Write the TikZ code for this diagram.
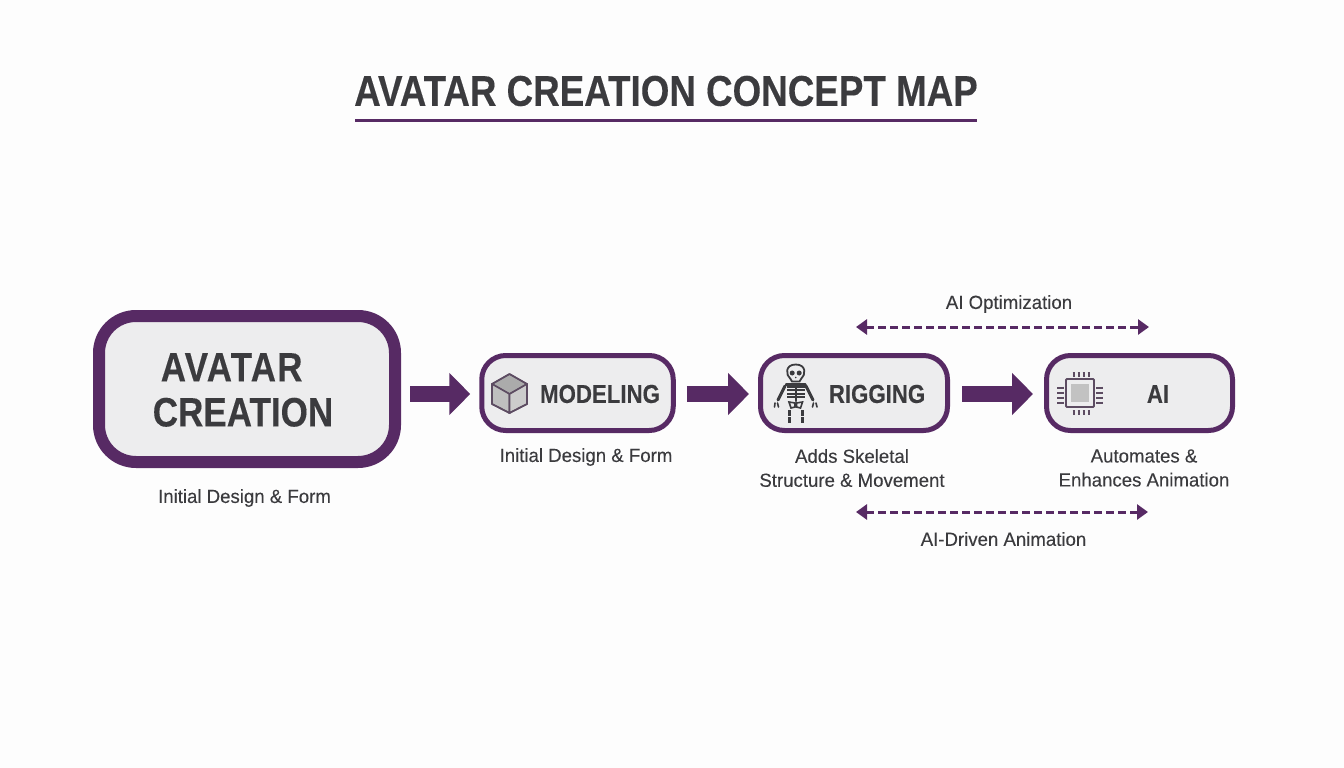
\documentclass[tikz,border=0pt]{standalone}
\usepackage{fontspec}
\usepackage{xcolor}
\usetikzlibrary{arrows.meta}
\setmainfont[FakeStretch=0.98, FakeBold=0.15, BoldFeatures={FakeStretch=0.855, FakeBold=0.25}]{Liberation Sans}
\definecolor{plum}{HTML}{572A64}
\definecolor{inkgray}{HTML}{3B3B3E}
\definecolor{boxgray}{HTML}{EDEDEE}
\definecolor{papergray}{HTML}{FDFDFD}
\definecolor{iconline}{HTML}{5D4C62}
\newcommand*{\fsize}[1]{\fontsize{#1}{#1}\selectfont}
\tikzset{
  bigbox/.style={draw=plum, fill=boxgray, line width=12pt, rounded corners=37pt,
    minimum width=296pt, minimum height=146pt},
  stepbox/.style={draw=plum, fill=boxgray, line width=5pt, rounded corners=24pt,
    minimum height=75pt},
  boxtext/.style={text=inkgray, font=\bfseries\fsize{26}},
  caption/.style={text=inkgray, font=\fsize{19}, align=center},
  blockarrow/.style={draw=plum, line width=16pt, -{Triangle[length=21pt,width=41pt]}},
  dasharrow/.style={draw=plum, line width=3pt, dash pattern=on 7.5pt off 4.5pt,
    {Triangle[length=11pt,width=15pt]}-{Triangle[length=11pt,width=15pt]}},
  iconface/.style={draw=iconline, line width=1.6pt, line join=round},
  bone/.style={draw=inkgray, line width=2.4pt, line cap=round},
  pinrow/.style={draw=iconline, dash pattern=on 2pt off 3pt}
}
\begin{document}
\begin{tikzpicture}[x=1pt, y=-1pt]
    \useasboundingbox (0, 0) rectangle (1344, 768);
    \fill[papergray] (0, 0) rectangle (1344, 768);

    % title
    \node[text=inkgray, font=\bfseries\fsize{43}, inner sep=0pt] (title) at (666, 91) {AVATAR CREATION CONCEPT MAP};
    \coordinate (ruleleft) at (355, 120.5);
    \coordinate (ruleright) at (977, 120.5);
    \draw[plum, line width=2.5pt] (ruleleft) -- (ruleright);

    % boxes
    \node[bigbox] (avatar) at (247, 389) {};
    \node[stepbox, minimum width=191.5pt] (modeling) at (577.5, 393) {};
    \node[stepbox, minimum width=187pt] (rigging) at (854, 393) {};
    \node[stepbox, minimum width=186pt] (ai) at (1139.5, 393) {};

    \node[text=inkgray, font=\bfseries\fsize{41}, align=left, inner sep=0pt] (avatartext) at (243, 390)
      {\hspace*{8pt}{\addfontfeature{LetterSpace=3}AVATAR}\\[4pt]CREATION};
    \node[boxtext] (modelingtext) at (600, 394) {MODELING};
    \node[boxtext] (riggingtext) at (877, 394) {RIGGING};
    \node[boxtext] (aitext) at (1158, 394) {AI};

    % block arrows
    \draw[blockarrow, shorten <=9pt, shorten >=9pt] ([yshift=-1pt]avatar.east |- modeling.west) -- ([yshift=-1pt]modeling.west);
    \draw[blockarrow, shorten <=11pt, shorten >=9pt] ([yshift=-1pt]modeling.east) -- ([yshift=-1pt]rigging.west);
    \draw[blockarrow, shorten <=12pt, shorten >=11pt] ([yshift=-1pt]rigging.east) -- ([yshift=-1pt]ai.west);

    % cube
    \fill[iconface, fill=black!33] (509.5, 374) -- (527, 384) -- (509.5, 394) -- (492, 384) -- cycle;
    \fill[iconface, fill=black!25] (492, 384) -- (509.5, 394) -- (509.5, 413) -- (492, 404) -- cycle;
    \fill[iconface, fill=black!20] (527, 384) -- (509.5, 394) -- (509.5, 413) -- (527, 404) -- cycle;
    \draw[iconface] (509.5, 374) -- (527, 384) -- (527, 404) -- (509.5, 413) -- (492, 404) -- (492, 384) -- cycle;

    % skeleton
    \draw[inkgray, fill=boxgray, line width=1.8pt] (790.5, 379) .. controls (785.5, 375) and (785, 364.5) .. (795.7, 364.5)
      .. controls (806.5, 364.5) and (806, 375) .. (801, 379) -- (799.5, 381.5) -- (792, 381.5) -- cycle;
    \fill[inkgray] (792.2, 373) circle (2.5) (799.2, 373) circle (2.5) (795.7, 377.5) circle (0.9);
    \draw[bone, line cap=butt, line width=8pt, dash pattern=on 2pt off 1.4pt] (790.5, 386) -- (790.5, 398);
    \draw[bone, line cap=butt, line width=8pt, dash pattern=on 2pt off 1.4pt] (801, 386) -- (801, 398);
    \draw[bone] (786, 384.5) -- (805.5, 384.5);
    \draw[bone] (795.7, 384) -- (795.7, 401);
    \draw[bone, line width=3pt] (785, 386) -- (778, 400);
    \draw[bone, line width=3pt] (806, 386) -- (813, 400);
    \draw[bone, line width=1.6pt] (775, 403) -- (774.5, 407) (777.5, 403) -- (778.5, 407);
    \draw[bone, line width=1.6pt] (816, 403) -- (817, 407) (813.5, 403) -- (812.5, 407);
    \draw[inkgray, fill=boxgray, line width=1.6pt] (789, 402) -- (795, 403) -- (795, 407) -- (791, 408) -- cycle;
    \draw[inkgray, fill=boxgray, line width=1.6pt] (802.5, 402) -- (796.5, 403) -- (796.5, 407) -- (800.5, 408) -- cycle;
    \draw[bone, line cap=butt, line width=3pt, dash pattern=on 5.5pt off 1.5pt] (789, 410) -- (789, 424);
    \draw[bone, line cap=butt, line width=3pt, dash pattern=on 5.5pt off 1.5pt] (802.3, 410) -- (802.3, 424);

    % chip
    \draw[iconline, line width=1.8pt, rounded corners=1pt, fill=boxgray] (1066, 379) rectangle (1094, 407);
    \fill[black!24] (1071, 384) rectangle (1089, 402);
    \draw[pinrow, line width=5pt] (1072.5, 374.5) -- (1089.5, 374.5);
    \draw[pinrow, line width=5pt] (1072.5, 412) -- (1089.5, 412);
    \draw[pinrow, line width=6.5pt] (1060.5, 386.5) -- (1060.5, 403.5);
    \draw[pinrow, line width=6.5pt] (1099.5, 386.5) -- (1099.5, 403.5);

    % captions
    \node[caption] (avatarcap) at (244.5, 498) {Initial Design \& Form};
    \node[caption] (modelingcap) at (586, 457) {Initial Design \& Form};
    \node[caption] (riggingcap) at (852, 468) {Adds Skeletal\\[5pt]Structure \& Movement};
    \node[caption] (aicap) at (1144, 468) {Automates \&\\[5pt]Enhances Animation};

    % dashed arrows
    \node[caption] (optimlabel) at (1009, 304) {AI Optimization};
    \coordinate (optimleft) at (856, 327);
    \coordinate (optimright) at (1149, 327);
    \draw[dasharrow] (optimleft) -- (optimright);
    \coordinate (drivenleft) at (856, 512);
    \coordinate (drivenright) at (1148, 512);
    \draw[dasharrow] (drivenleft) -- (drivenright);
    \node[caption] (drivenlabel) at (1003.5, 539) {AI-Driven Animation};
  \end{tikzpicture}
\end{document}
